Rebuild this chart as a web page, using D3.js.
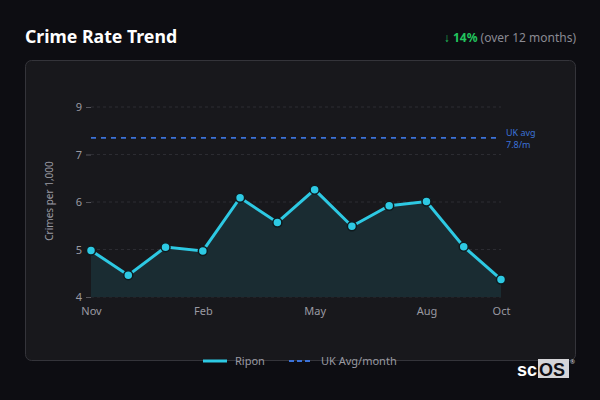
<!DOCTYPE html>
<html lang="en">
<head>
  <meta charset="UTF-8">
  <title>Crime Rate Trend</title>
  <script src="https://d3js.org/d3.v7.min.js"></script>
  <style>
    body {
      margin: 0;
      background-color: #0d0d12;
      font-family: "Noto Sans", "Open Sans", sans-serif;
    }
  </style>
</head>
<body>
  <script>
    // data
    const months = ["Nov", "Dec", "Jan", "Feb", "Mar", "Apr", "May", "Jun", "Jul", "Aug", "Sep", "Oct"];
    const ripon = [4.98, 4.46, 5.05, 4.97, 6.09, 5.57, 6.26, 5.49, 5.92, 6.01, 5.06, 4.37];
    const ukAvg = 7.35;
    const yTicks = [4, 5, 6, 7, 8];
    const yTickLabels = ["4", "5", "6", "7", "9"];
    const xTickMonths = ["Nov", "Feb", "May", "Aug", "Oct"];

    const svg = d3.select("body")
        .append("svg")
        .attr("width", 600)
        .attr("height", 400);

    // header
    svg.append("text")
        .attr("x", 25).attr("y", 43)
        .attr("fill", "#ffffff")
        .attr("font-size", 17.7)
        .attr("font-weight", "bold")
        .text("Crime Rate Trend");

    const change = svg.append("text")
        .attr("x", 576).attr("y", 42)
        .attr("text-anchor", "end")
        .attr("font-size", 12);
    change.append("tspan").attr("fill", "#22c55e").text("↓ ");
    change.append("tspan").attr("fill", "#22c55e").attr("font-weight", "bold").text("14%");
    change.append("tspan").attr("fill", "#8a8a92").text(" (over 12 months)");

    // panel
    svg.append("rect")
        .attr("x", 25.5).attr("y", 60.5)
        .attr("width", 550).attr("height", 300)
        .attr("rx", 6)
        .attr("fill", "#18181c")
        .attr("stroke", "#34343a");

    // scales
    const x = d3.scalePoint().domain(months).range([91, 501]);
    const y = d3.scaleLinear().domain([4, 8]).range([297, 107]);

    // grid
    svg.selectAll("line.grid")
        .data(yTicks)
        .enter()
        .append("line")
        .attr("class", "grid")
        .attr("x1", 91).attr("x2", 501)
        .attr("y1", d => y(d)).attr("y2", d => y(d))
        .attr("stroke", "#2c2c32")
        .attr("stroke-dasharray", "3,3");

    // y axis
    const yAxis = svg.append("g")
        .attr("transform", "translate(91,0)")
        .call(d3.axisLeft(y).tickValues(yTicks).tickSize(5).tickPadding(4)
            .tickFormat((d, i) => yTickLabels[i]));
    yAxis.select(".domain").remove();
    yAxis.selectAll("line").attr("stroke", "#55555c");
    yAxis.selectAll("text").attr("fill", "#9a9aa2").attr("font-size", 11)
        .attr("font-family", "Noto Sans");

    svg.append("text")
        .attr("transform", "translate(53,201) rotate(-90)")
        .attr("text-anchor", "middle")
        .attr("fill", "#9a9aa2")
        .attr("font-size", 10)
        .text("Crimes per 1,000");

    // x axis
    const xAxis = svg.append("g")
        .attr("transform", "translate(0,297)")
        .call(d3.axisBottom(x).tickValues(xTickMonths).tickSize(0).tickPadding(10));
    xAxis.select(".domain").remove();
    xAxis.selectAll("text").attr("fill", "#9a9aa2").attr("font-size", 11)
        .attr("font-family", "Noto Sans");

    // area + line
    const area = d3.area()
        .x((d, i) => x(months[i]))
        .y0(y(4))
        .y1(d => y(d));
    svg.append("path")
        .datum(ripon)
        .attr("d", area)
        .attr("fill", "#1a2c32");

    // UK avg
    svg.append("line")
        .attr("x1", 91).attr("x2", 497)
        .attr("y1", y(ukAvg)).attr("y2", y(ukAvg))
        .attr("stroke", "#3b72d9")
        .attr("stroke-width", 1.6)
        .attr("stroke-dasharray", "5,5");
    svg.append("text")
        .attr("x", 506).attr("y", y(ukAvg) - 2)
        .attr("fill", "#3b72d9").attr("font-size", 9)
        .text("UK avg");
    svg.append("text")
        .attr("x", 506).attr("y", y(ukAvg) + 10)
        .attr("fill", "#3b72d9").attr("font-size", 9)
        .text("7.8/m");

    const line = d3.line()
        .x((d, i) => x(months[i]))
        .y(d => y(d));
    svg.append("path")
        .datum(ripon)
        .attr("d", line)
        .attr("fill", "none")
        .attr("stroke", "#2dc9e3")
        .attr("stroke-width", 3);

    svg.selectAll("circle.pt")
        .data(ripon)
        .enter()
        .append("circle")
        .attr("class", "pt")
        .attr("cx", (d, i) => x(months[i]))
        .attr("cy", d => y(d))
        .attr("r", 4.5)
        .attr("fill", "#2dc9e3")
        .attr("stroke", "#0f1a1e")
        .attr("stroke-width", 1.5);

    // legend
    const legend = svg.append("g");
    legend.append("line")
        .attr("x1", 203).attr("x2", 227).attr("y1", 361).attr("y2", 361)
        .attr("stroke", "#2dc9e3").attr("stroke-width", 3);
    legend.append("text")
        .attr("x", 235).attr("y", 365)
        .attr("fill", "#9a9aa2").attr("font-size", 11)
        .text("Ripon");
    legend.append("line")
        .attr("x1", 289).attr("x2", 313).attr("y1", 361).attr("y2", 361)
        .attr("stroke", "#3b72d9").attr("stroke-width", 2)
        .attr("stroke-dasharray", "5,3");
    legend.append("text")
        .attr("x", 321).attr("y", 365)
        .attr("fill", "#9a9aa2").attr("font-size", 11)
        .text("UK Avg/month");

    // logo
    const logo = svg.append("g");
    logo.append("rect")
        .attr("x", 538).attr("y", 359).attr("width", 31).attr("height", 19)
        .attr("fill", "#d4d4d8");
    logo.append("text")
        .attr("x", 517).attr("y", 376)
        .attr("fill", "#ffffff").attr("font-size", 18).attr("font-weight", "bold")
        .attr("font-family", "Liberation Sans, Arial, sans-serif")
        .text("sc");
    logo.append("text")
        .attr("x", 539).attr("y", 376)
        .attr("fill", "#0d0d12").attr("font-size", 18).attr("font-weight", "bold")
        .attr("font-family", "Liberation Sans, Arial, sans-serif")
        .text("OS");
    logo.append("text")
        .attr("x", 570).attr("y", 364)
        .attr("fill", "#d4d4d8").attr("font-size", 6)
        .text("®");
  </script>
</body>
</html>
